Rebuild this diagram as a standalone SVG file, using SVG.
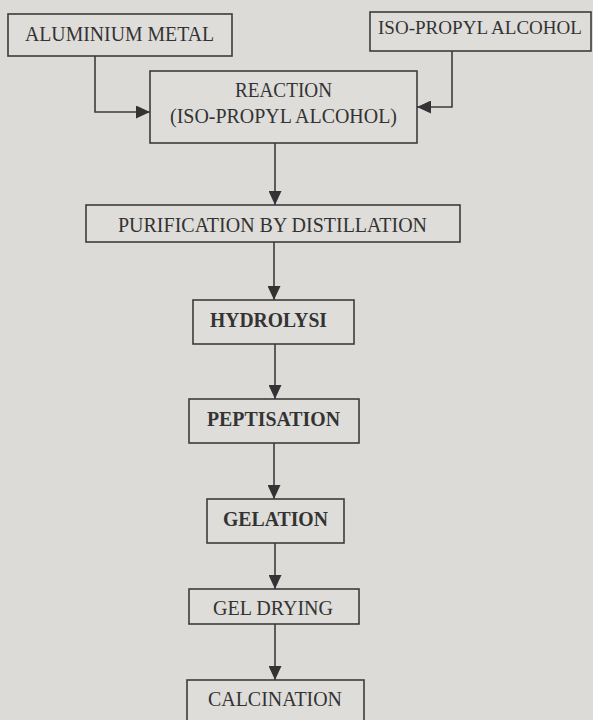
<svg xmlns="http://www.w3.org/2000/svg" width="593" height="720" viewBox="0 0 593 720">
<style>
.bg{fill:#dcdbd7}
.box{fill:#dedddA;stroke:#3c3c3c;stroke-width:1.6}
.t{font-family:"Liberation Serif","Times New Roman",serif;font-size:20.5px;fill:#333}
.b{font-weight:bold}
.c{fill:none;stroke:#3c3c3c;stroke-width:1.6}
</style>
<defs>
<marker id="ah" markerUnits="userSpaceOnUse" markerWidth="15" markerHeight="13" refX="14" refY="6.5" orient="auto">
<path d="M0,0 L14,6.5 L0,13 Z" fill="#333"/>
</marker>
</defs>
<rect class="bg" x="0" y="0" width="593" height="720"/>
<g id="connectors">
<path class="c" d="M95,56 V112 H150" marker-end="url(#ah)"/>
<path class="c" d="M452,51 V107 H417" marker-end="url(#ah)"/>
<path class="c" d="M275,143 V205" marker-end="url(#ah)"/>
<path class="c" d="M274,242 V300" marker-end="url(#ah)"/>
<path class="c" d="M275,344 V399" marker-end="url(#ah)"/>
<path class="c" d="M274,443 V499" marker-end="url(#ah)"/>
<path class="c" d="M275,543 V589" marker-end="url(#ah)"/>
<path class="c" d="M275,624 V680" marker-end="url(#ah)"/>
</g>
<g id="aluminium">
<rect class="box" x="8" y="14" width="224" height="42"/>
<text class="t" x="25" y="41" textLength="189" lengthAdjust="spacingAndGlyphs">ALUMINIUM METAL</text>
</g>
<g id="isopropyl">
<rect class="box" x="370" y="12" width="221" height="39"/>
<text class="t" x="378" y="34" style="font-size:19px" textLength="204" lengthAdjust="spacingAndGlyphs">ISO-PROPYL ALCOHOL</text>
</g>
<g id="reaction">
<rect class="box" x="150" y="71" width="267" height="72"/>
<text class="t" x="235" y="97" textLength="97" lengthAdjust="spacingAndGlyphs">REACTION</text>
<text class="t" x="170" y="123" textLength="227" lengthAdjust="spacingAndGlyphs">(ISO-PROPYL ALCOHOL)</text>
</g>
<g id="purification">
<rect class="box" x="86" y="205" width="374" height="37"/>
<text class="t" x="118" y="232" textLength="309" lengthAdjust="spacingAndGlyphs">PURIFICATION BY DISTILLATION</text>
</g>
<g id="hydrolysi">
<rect class="box" x="193" y="300" width="161" height="44"/>
<text class="t b" x="210" y="327" textLength="117" lengthAdjust="spacingAndGlyphs">HYDROLYSI</text>
</g>
<g id="peptisation">
<rect class="box" x="189" y="399" width="170" height="44"/>
<text class="t b" x="207" y="426" textLength="133" lengthAdjust="spacingAndGlyphs">PEPTISATION</text>
</g>
<g id="gelation">
<rect class="box" x="207" y="499" width="137" height="44"/>
<text class="t b" x="223" y="526" textLength="105" lengthAdjust="spacingAndGlyphs">GELATION</text>
</g>
<g id="geldrying">
<rect class="box" x="189" y="589" width="170" height="35"/>
<text class="t" x="213" y="615" textLength="120" lengthAdjust="spacingAndGlyphs">GEL DRYING</text>
</g>
<g id="calcination">
<rect class="box" x="187" y="680" width="177" height="50"/>
<text class="t" x="208" y="706" textLength="134" lengthAdjust="spacingAndGlyphs">CALCINATION</text>
</g>
</svg>
